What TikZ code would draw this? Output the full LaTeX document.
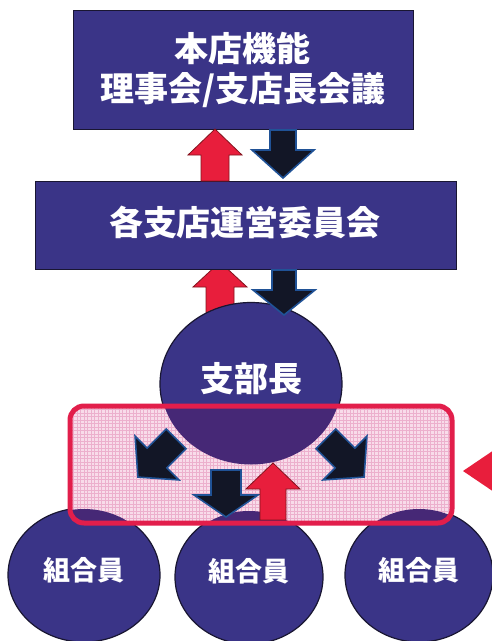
\documentclass[tikz,border=0pt]{standalone}
\usepackage{fontspec}
\newfontfamily\jp{Noto Sans CJK JP}
\usetikzlibrary{shapes.geometric,calc}
\definecolor{boxblue}{RGB}{58,52,135}
\definecolor{boxline}{RGB}{25,22,50}
\definecolor{arrred}{RGB}{232,30,60}
\definecolor{arrredline}{RGB}{130,20,30}
\definecolor{arrblue}{RGB}{18,22,38}
\definecolor{arrblueline}{RGB}{32,82,150}
\definecolor{pinkfill}{RGB}{248,220,234}
\definecolor{pinkgrid}{RGB}{236,176,205}
\definecolor{pinkborder}{RGB}{226,30,75}
\definecolor{darkcirc}{RGB}{70,40,118}
% block arrow: x, tip y, tail y, shaft half width, head half width, head base y
\newcommand{\blk}[7][]{\draw[#1] (#2-#5,#4) -- (#2-#5,#7) -- (#2-#6,#7) -- (#2,#3) -- (#2+#6,#7) -- (#2+#5,#7) -- (#2+#5,#4) -- cycle;}
\tikzset{
  panel/.style={draw=boxline, line width=1pt, fill=boxblue, rectangle, inner sep=0pt},
  disc/.style={draw=boxline, line width=1.2pt, fill=boxblue, ellipse, inner sep=0pt},
  bigtxt/.style={text=white, font=\jp\bfseries\fontsize{34}{40}\selectfont, align=center},
  smalltxt/.style={text=white, font=\jp\bfseries\fontsize{27}{32}\selectfont},
  redarr/.style={fill=arrred, draw=arrredline, line width=0.8pt, line join=miter},
  bluearr/.style={fill=arrblue, draw=arrblueline, line width=1.6pt, line join=miter},
  gridline/.style={draw=pinkgrid, line width=0.5pt},
}
\begin{document}
\begin{tikzpicture}[x=1pt,y=-1pt]
\useasboundingbox (0,0) rectangle (491,641);
\fill[white] (0,0) rectangle (491,641);
% red up arrow between branch box and chief (behind circle)
\blk[redarr]{220}{262}{322}{14}{27}{287}
% boxes
\node[panel, minimum width=340pt, minimum height=119pt] (hq) at (243,69.5) {};
\node[panel, minimum width=421pt, minimum height=88pt] (branch) at (245.5,225) {};
\node[bigtxt] (hqtxt) at (243,70) {本店機能\\理事会/支店長会議};
\node[bigtxt] (brtxt) at (245,222) {各支店運営委員会};
% arrows between boxes
\blk[redarr]{215}{129}{181}{14}{27}{155}
\blk[bluearr]{283}{178}{130}{13}{31}{150}
% member circles
\node[disc, minimum width=152pt, minimum height=134pt] (m1) at (84,575) {};
\node[disc, minimum width=148pt, minimum height=134pt] (m2) at (249,577) {};
\node[disc, minimum width=148pt, minimum height=134pt] (m3) at (419,575) {};
% chief circle
\node[disc, minimum width=182pt, minimum height=163pt] (chief) at (251,384) {};
% pink overlay box
\fill[pinkfill, rounded corners=14pt] (70,406) rectangle (452,523);
\begin{scope}
  \clip[rounded corners=14pt] (70,406) rectangle (452,523);
  \foreach \gx in {70,73.5,...,452} \draw[gridline] (\gx,406) -- (\gx,523);
  \foreach \gy in {406,409.5,...,523} \draw[gridline] (70,\gy) -- (452,\gy);
  \fill[darkcirc] (chief.center) ellipse [x radius=90, y radius=80.5];
  \fill[darkcirc] (m1.center) ellipse [x radius=75, y radius=66];
  \fill[darkcirc] (m2.center) ellipse [x radius=73, y radius=66];
  \fill[darkcirc] (m3.center) ellipse [x radius=73, y radius=66];
\end{scope}
\draw[pinkborder, line width=5pt, rounded corners=14pt] (70,406) rectangle (452,523);
% arrows inside box
\begin{scope}[shift={(157,458)}, rotate=-45]
  \blk[bluearr]{0}{27}{-27}{14}{31}{0}
\end{scope}
\begin{scope}[shift={(345,458)}, rotate=45]
  \blk[bluearr]{0}{27}{-27}{14}{31}{0}
\end{scope}
\blk[bluearr]{226}{517}{470}{15}{32}{495}
\blk[redarr]{273}{463}{520}{13}{27}{489}
% blue down arrow from branch box to chief (on top of circle)
\blk[bluearr]{284}{315}{270}{12}{31}{290}
% texts
\node[bigtxt] (chieftxt) at (251,379) {支部長};
\node[smalltxt] (t1) at (84,570) {組合員};
\node[smalltxt] (t2) at (249,571) {組合員};
\node[smalltxt] (t3) at (419,570) {組合員};
% partial red arrow at right edge
\coordinate (rtip) at (463,471);
\fill[arrred] (rtip) -- (497,448) -- (497,494) -- cycle;
\end{tikzpicture}
\end{document}
